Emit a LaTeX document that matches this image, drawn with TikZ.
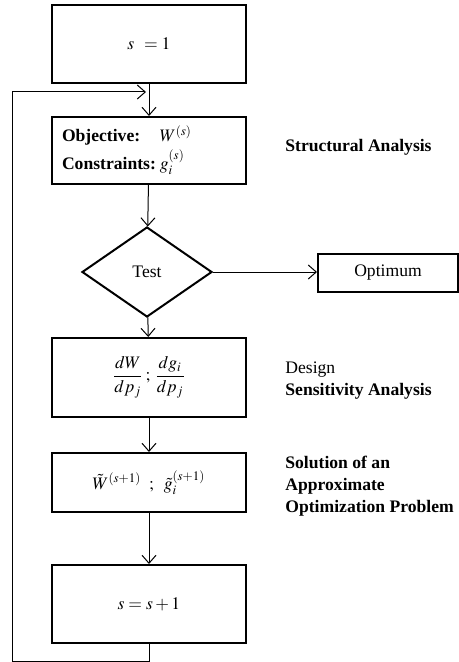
\documentclass[tikz,border=0pt]{standalone}
\usepackage{mathptmx}
\usepackage{fontspec}
\setmainfont{Liberation Serif}
\usetikzlibrary{shapes.geometric,arrows.meta}

\tikzset{
  blk/.style={draw, line width=1pt, minimum width=97pt, inner sep=0pt},
  flow/.style={-{Straight Barb[length=4pt,width=7pt]}, line width=0.5pt},
  note/.style={anchor=west, align=left, inner sep=0pt}
}

\begin{document}
\begin{tikzpicture}[x=0.5pt, y=-0.5pt, every node/.style={font=\fontsize{8.8}{11}\selectfont}]
    \useasboundingbox (0,0) rectangle (459,662);

    % main column
    \node[blk, minimum height=39pt] (start) at (149,44) {$s\;\,=1$};
    \node[blk, minimum height=33.5pt, text width=87pt, align=left] (anal) at (149,150.5)
        {\begin{tabular}{@{}l@{\hspace{2pt}}l@{}}
            \textbf{Objective:} & $W^{(s)}$\\[1pt]
            \textbf{Constraints:} & $g_i^{(s)}$
         \end{tabular}};
    \node[draw, diamond, line width=1pt, minimum width=65pt, minimum height=45pt,
          inner sep=0pt] (test) at (147,272) {Test};
    \node[blk, minimum width=70pt, minimum height=19pt] (opt) at (388,273) {Optimum};
    \node[blk, minimum height=39.5pt] (sens) at (149,377.5)
        {$\displaystyle\frac{dW}{dp_j}\,;\,\frac{dg_i}{dp_j}$};
    \node[blk, minimum height=29.5pt] (approx) at (149,482.5)
        {$\tilde{W}^{(s+1)}\;\;;\;\;\tilde{g}_i^{(s+1)}$};
    \node[blk, minimum height=39pt] (update) at (149,604) {$s = s + 1$};

    % labels on the right
    \node[note] (structlbl) at (285,147) {\textbf{Structural Analysis}};
    \node[note] (senslbl) at (285,381) {Design\\\textbf{Sensitivity Analysis}};
    \node[note] (approxlbl) at (285,486)
        {\textbf{Solution of an}\\\textbf{Approximate}\\\textbf{Optimization Problem}};

    % connectors
    \coordinate (join) at (149,92);
    \draw[flow] (start) -- (anal);
    \draw[flow] (anal) -- (test);
    \draw[flow] (test.east) -- (test.east -| opt.west);
    \draw[flow] (test) -- (sens);
    \draw[flow] (sens) -- (approx);
    \draw[flow] (approx) -- (update);

    % loop back
    \draw[flow, shorten >=1.5pt] (update.south) -- ++(0,17) -| (12,92) -- (join);
\end{tikzpicture}
\end{document}
